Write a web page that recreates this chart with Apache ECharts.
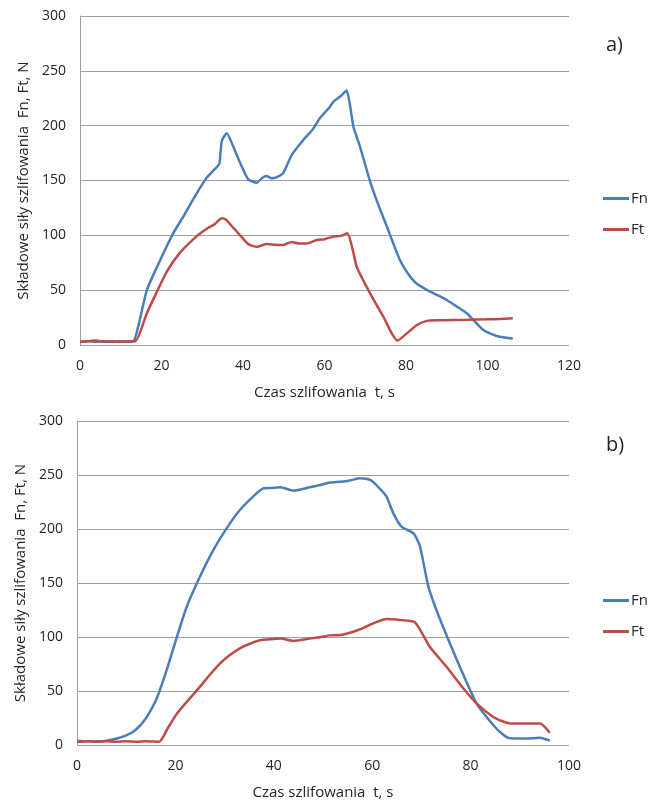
<!DOCTYPE html>
<html>
<head>
<meta charset="utf-8">
<script src="https://cdn.jsdelivr.net/npm/echarts@6/dist/echarts.min.js"></script>
<style>
  html, body { margin: 0; padding: 0; background: #fff; }
  #chart { width: 656px; height: 801px; }
</style>
</head>
<body>
<div id="chart"></div>
<script>
// panel a) - [t, F]
const fnA = [
  [0, 3], [2, 3.5], [4, 3], [6, 3.5], [8, 3], [10, 3.5], [12, 3], [13.2, 3.5],
  [14.8, 25], [16.4, 50], [19.5, 76], [22.9, 102], [25.5, 118], [28.6, 138],
  [31, 152], [33.5, 162], [34.2, 165], [34.8, 186], [36, 193], [37.5, 182],
  [39.3, 166], [41.3, 151], [43.4, 148], [44.6, 152], [45.8, 154], [47, 152],
  [48.3, 153], [49.9, 157], [51.9, 173], [54.8, 187], [57, 196], [58.9, 207],
  [61.3, 217], [62.2, 222], [64, 227], [65.4, 232], [66.2, 220], [67.1, 199],
  [68.7, 181], [71.2, 149], [73.2, 128], [75.3, 108], [78.5, 77.5], [80.5, 65],
  [82.6, 56], [85.9, 48.6], [88, 45], [90, 41], [92.5, 35], [94.9, 29],
  [97, 21], [99, 13.7], [101, 10], [103, 7.6], [106.2, 6]
];
const ftA = [
  [0, 3], [2, 3.5], [4, 4], [6, 3], [8, 3.5], [10, 3], [12, 3.5], [13.6, 3.5],
  [16.4, 29], [18.8, 48], [21.3, 67], [24.5, 84], [28.6, 99], [31.1, 106],
  [33, 110], [34.8, 115.5], [35.9, 114], [37.6, 107], [39.3, 100], [41.3, 92],
  [43.4, 89.5], [45.8, 92], [47.8, 91.5], [49.9, 91.2], [51.9, 94], [53.8, 92.5],
  [55.6, 92.5], [58.1, 95.7], [60, 96.5], [62.2, 98.8], [64, 99.5], [65.6, 101.8],
  [67.1, 84], [67.9, 71.4], [71.2, 47], [74.4, 26], [77.9, 4], [80.2, 10.6],
  [82.6, 18], [85.1, 22], [88, 22.5], [91.6, 22.8], [95, 23], [99.8, 23.4],
  [103, 23.8], [106.2, 24.3]
];

// panel b) - [t, F]
const fnB = [
  [0, 4], [2, 3.5], [4, 3.5], [6, 4], [8.1, 6], [10, 9], [11.4, 12.3], [12.8, 18],
  [14.2, 26], [16.2, 43], [18.2, 69], [20.3, 100], [22.3, 128], [25, 156],
  [27.7, 180.5], [30.4, 200.6], [33.1, 217.6], [35.8, 230], [37.9, 237.7],
  [39.5, 238], [41.4, 238.6], [44, 235.5], [47.3, 238.6], [49.4, 240.7],
  [51.4, 243], [53.5, 243.8], [55.5, 245], [57.5, 247], [59.6, 245.4],
  [61.2, 239], [62.9, 230], [64.3, 214.5], [66, 202], [68.4, 196], [69.7, 184],
  [71.4, 147], [72.8, 128], [74.4, 109.5], [77.8, 72.5], [81.2, 38.6],
  [84.6, 18.5], [86.5, 10], [88, 6.2], [90.5, 6], [92.8, 6.2], [94.1, 6.8],
  [96.1, 4]
];
const ftB = [
  [0, 3], [2, 3.5], [4, 3], [6, 3.5], [8, 3], [10, 3.5], [12, 3], [14, 3.5],
  [16.7, 3], [18.5, 16], [20.3, 29], [22.7, 42], [25, 54], [27, 65],
  [29.1, 75.6], [31, 83], [33.1, 89.5], [35, 93.5], [37.2, 97], [39.3, 98],
  [41.4, 98.5], [44, 96.3], [47.3, 98.5], [49.4, 99.7], [51.4, 101.5],
  [53.5, 101.9], [55.5, 104], [57.5, 107], [60.2, 112.6], [62.9, 116.6],
  [65.6, 115.7], [68.7, 113.6], [71.7, 91], [75.1, 72.5], [78.5, 52.5],
  [81.2, 38.6], [84.6, 26], [86.5, 22], [88, 20], [91, 20], [94.1, 20],
  [96.1, 11.4]
];

const xTicksA = { min: 0, max: 120, interval: 20 };
const xTicksB = { min: 0, max: 100, interval: 20 };
const yTicks = { min: 0, max: 300, interval: 50 };

const textColor = '#262626';
const gridColor = '#a0a0a0';
const blue = '#4a7ebb';
const red = '#be4b48';
const font = 'Open Sans';

const xAxisBase = (idx, ticks) => ({
  type: 'value',
  gridIndex: idx,
  min: ticks.min,
  max: ticks.max,
  interval: ticks.interval,
  name: 'Czas szlifowania  t, s',
  nameLocation: 'middle',
  nameGap: 40,
  nameTextStyle: { color: textColor, fontSize: 15, fontFamily: font },
  axisLine: { show: false },
  axisTick: { show: false },
  splitLine: { show: false },
  axisLabel: { color: textColor, fontSize: 14, fontFamily: font, margin: 14 }
});

const yAxisBase = (idx) => ({
  type: 'value',
  gridIndex: idx,
  min: yTicks.min,
  max: yTicks.max,
  interval: yTicks.interval,
  name: 'Składowe siły szlifowania  Fn, Ft, N',
  nameLocation: 'middle',
  nameGap: 47,
  nameTextStyle: { color: textColor, fontSize: 15, fontFamily: font },
  axisLine: { show: true, lineStyle: { color: gridColor, width: 1 } },
  axisTick: { show: false },
  splitLine: { show: true, lineStyle: { color: gridColor, width: 1 } },
  axisLabel: { color: textColor, fontSize: 14, fontFamily: font, margin: 14 }
});

const lineSeries = (name, data, color, idx) => ({
  name: name,
  type: 'line',
  xAxisIndex: idx,
  yAxisIndex: idx,
  data: data,
  showSymbol: false,
  smooth: 0.2,
  lineStyle: { color: color, width: 2.5 },
  itemStyle: { color: color },
  animation: false
});

const legendBase = (idx, top) => ({
  orient: 'vertical',
  left: 598,
  top: top,
  icon: 'rect',
  itemWidth: 26,
  itemHeight: 3,
  itemGap: 16,
  textStyle: { color: textColor, fontSize: 15, fontFamily: font, padding: [0, 0, 0, -3] },
  data: idx === 0 ? ['Fn', 'Ft'] : ['Fn b', 'Ft b'],
  formatter: (n) => n.replace(' b', '')
});

const chart = echarts.init(document.getElementById('chart'));
chart.setOption({
  backgroundColor: '#fff',
  animation: false,
  title: [
    { text: 'a)', left: 601, top: 30, textStyle: { color: textColor, fontSize: 20, fontWeight: 'normal', fontFamily: font } },
    { text: 'b)', left: 601, top: 430, textStyle: { color: textColor, fontSize: 20, fontWeight: 'normal', fontFamily: font } }
  ],
  legend: [legendBase(0, 186), legendBase(1, 588)],
  grid: [
    { left: 80, top: 16, width: 489, height: 329 },
    { left: 77, top: 421, width: 492, height: 324 }
  ],
  xAxis: [xAxisBase(0, xTicksA), xAxisBase(1, xTicksB)],
  yAxis: [yAxisBase(0), yAxisBase(1)],
  series: [
    lineSeries('Fn', fnA, blue, 0),
    lineSeries('Ft', ftA, red, 0),
    lineSeries('Fn b', fnB, blue, 1),
    lineSeries('Ft b', ftB, red, 1)
  ]
});
</script>
</body>
</html>
